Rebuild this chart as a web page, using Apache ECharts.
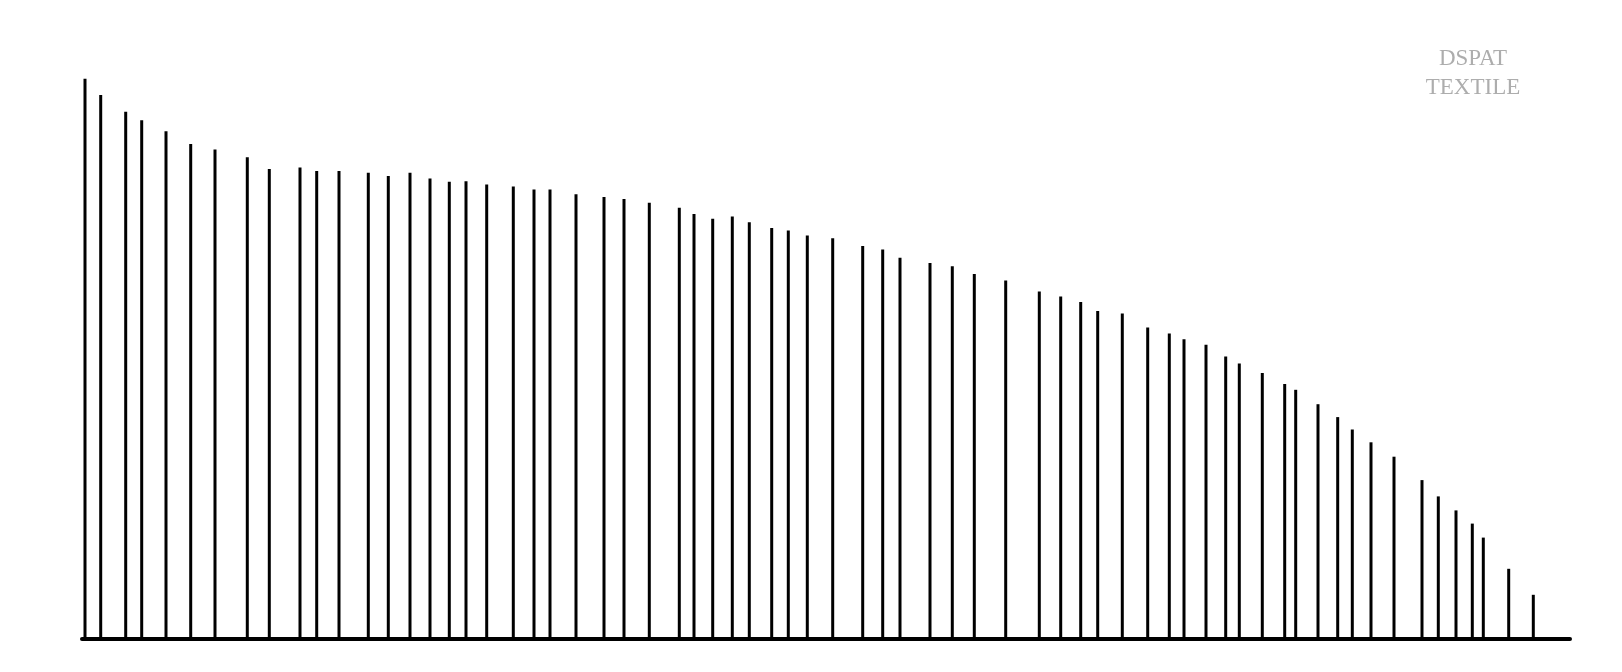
<!DOCTYPE html>
<html>
<head>
<meta charset="utf-8">
<style>
  html, body { margin: 0; padding: 0; background: #ffffff; }
  #chart { width: 1622px; height: 672px; }
</style>
<script src="https://cdn.jsdelivr.net/npm/echarts@6/dist/echarts.min.js"></script>
</head>
<body>
<div id="chart"></div>
<script>
// Horizontal position of each spike (arbitrary units along the base line)
const positions = [3, 18.7, 43.7, 59.7, 84, 108.7, 133, 165.3, 187.3, 218, 234.7, 257, 286.3, 306.3, 328, 348, 367.3, 384, 404.7, 431.3, 452, 468, 494, 522, 542, 567.3, 597.3, 612, 630.7, 650.3, 667.3, 689.7, 706.3, 725.3, 750.7, 780.7, 800.7, 818, 848, 870.3, 892.3, 923.7, 957.3, 978.7, 998.7, 1015.7, 1040.3, 1065.7, 1087.3, 1102, 1124, 1143.7, 1157.3, 1180.3, 1202.7, 1213.7, 1236, 1255.7, 1270.3, 1289, 1312, 1340, 1356.3, 1374, 1390.3, 1401.3, 1426.7, 1451.3];

// Height of each spike (arbitrary units)
const heights = [560.3, 544, 527.3, 518.7, 507.8, 495, 489.5, 481.7, 470, 471.6, 468.1, 468.1, 466.2, 463.1, 466.2, 460.4, 457.3, 457.7, 454.5, 452.6, 449.5, 449.5, 444.8, 442.1, 440.1, 436.2, 431.2, 425, 420.3, 422.6, 416.8, 411, 408.6, 403.6, 400.8, 393, 389.5, 381.3, 376, 372.8, 365.1, 358.5, 347.6, 342.5, 337.1, 328.1, 325.4, 311.4, 305.6, 299.7, 294.3, 282.6, 275.6, 265.9, 255, 249.2, 234.8, 221.9, 209.5, 196.7, 182.3, 158.9, 142.6, 128.6, 115.4, 101.4, 70.2, 44.2];

// Axis ranges
const xRange = [0, 1488];
const yRange = [0, 600];

// Label text
const labelLines = ['DSPAT', 'TEXTILE'];

const seriesData = positions.map((p, i) => [p, heights[i]]);

const chart = echarts.init(document.getElementById('chart'), null, { renderer: 'canvas' });
chart.setOption({
  animation: false,
  backgroundColor: '#ffffff',
  grid: { left: 82, right: 52, top: 39, bottom: 33, containLabel: false },
  xAxis: {
    type: 'value',
    min: xRange[0],
    max: xRange[1],
    axisLine: { show: true, onZero: false, lineStyle: { color: '#000000', width: 4 } },
    axisTick: { show: false },
    axisLabel: { show: false },
    splitLine: { show: false }
  },
  yAxis: {
    type: 'value',
    min: yRange[0],
    max: yRange[1],
    axisLine: { show: false },
    axisTick: { show: false },
    axisLabel: { show: false },
    splitLine: { show: false }
  },
  graphic: [{
    type: 'text',
    left: 1473 - 60,
    top: 44,
    style: {
      text: labelLines.join('\n'),
      x: 60,
      width: 120,
      align: 'center',
      textAlign: 'center',
      fill: '#adadad',
      font: '23px "Liberation Serif", "Times New Roman", serif',
      lineHeight: 29
    }
  }],
  series: [{
    type: 'bar',
    data: seriesData,
    barWidth: 3,
    itemStyle: { color: '#000000' },
    emphasis: { disabled: true },
    silent: true
  }]
});
</script>
</body>
</html>
